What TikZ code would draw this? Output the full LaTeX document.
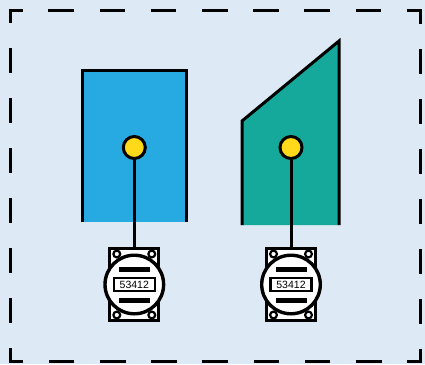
\documentclass[tikz,border=0pt]{standalone}
\usepackage{fontspec}
\setmainfont{Liberation Sans}
\definecolor{bgc}{HTML}{DEE9F6}
\definecolor{bluef}{HTML}{27AAE2}
\definecolor{tealf}{HTML}{14A99B}
\definecolor{yel}{HTML}{FFD91A}
\tikzset{
  ol/.style={draw=black,line width=3pt,line join=miter,miter limit=10},
  dashh/.style={draw=black,line width=3pt,dash pattern=on 25.6pt off 25.6pt,dash phase=11.3pt},
  dashv/.style={draw=black,line width=3pt,dash pattern=on 25pt off 25pt,dash phase=11pt},
  pin/.style={circle,draw=black,line width=3pt,fill=yel,minimum size=22pt,inner sep=0pt},
  lnk/.style={draw=black,line width=3pt},
}
\newcommand{\meter}[2]{%
  \begin{scope}[shift={(#1,#2)}]
    \draw[black,line width=3pt,fill=white] (-24.5,-36) rectangle (24.5,36);
    \foreach \sx/\sy in {-1/-1,1/-1,1/1,-1/1}
      \draw[black,line width=2.2pt,fill=white] (\sx*17.5,\sy*30.5) circle (3.4);
    \draw[black,line width=3.4pt,fill=white] (0,0) circle (29.3);
    \fill[black] (-15.5,-18) rectangle (15.5,-13);
    \fill[black] (-15.5,13) rectangle (15.5,18);
    \node[draw=black,line width=2.2pt,fill=white,minimum width=41pt,minimum height=13pt,inner sep=0pt,font=\fontsize{10.5pt}{12pt}\selectfont] at (0,0) {53412};
  \end{scope}}
\begin{document}
\begin{tikzpicture}[x=1pt,y=-1pt]
\useasboundingbox (0,0) rectangle (425,364);
\fill[bgc] (0,0) rectangle (425,364);
\fill[bluef] (82,70) rectangle (186,222);
\draw[ol] (82,222) -- (82,70) -- (186,70) -- (186,222);
\fill[tealf] (242,121) -- (339,41) -- (339,225) -- (242,225) -- cycle;
\draw[ol] (242,225) -- (242,121) -- (339,41) -- (339,225);
\node[pin] (pa) at (134.3,147.5) {};
\node[pin] (pb) at (291,147.5) {};
\coordinate (ma) at (134.3,247);
\coordinate (mb) at (291,247);
\draw[lnk] (pa) -- (ma);
\draw[lnk] (pb) -- (mb);
\meter{134.3}{284.5}
\meter{291}{284.5}
\path[dashh] (8.5,10.5) -- (421.5,10.5);
\path[dashv] (10,9) -- (10,362.5);
\path[dashh] (421.5,361) -- (8.5,361);
\path[dashv] (420,362.5) -- (420,9);
\end{tikzpicture}
\end{document}
